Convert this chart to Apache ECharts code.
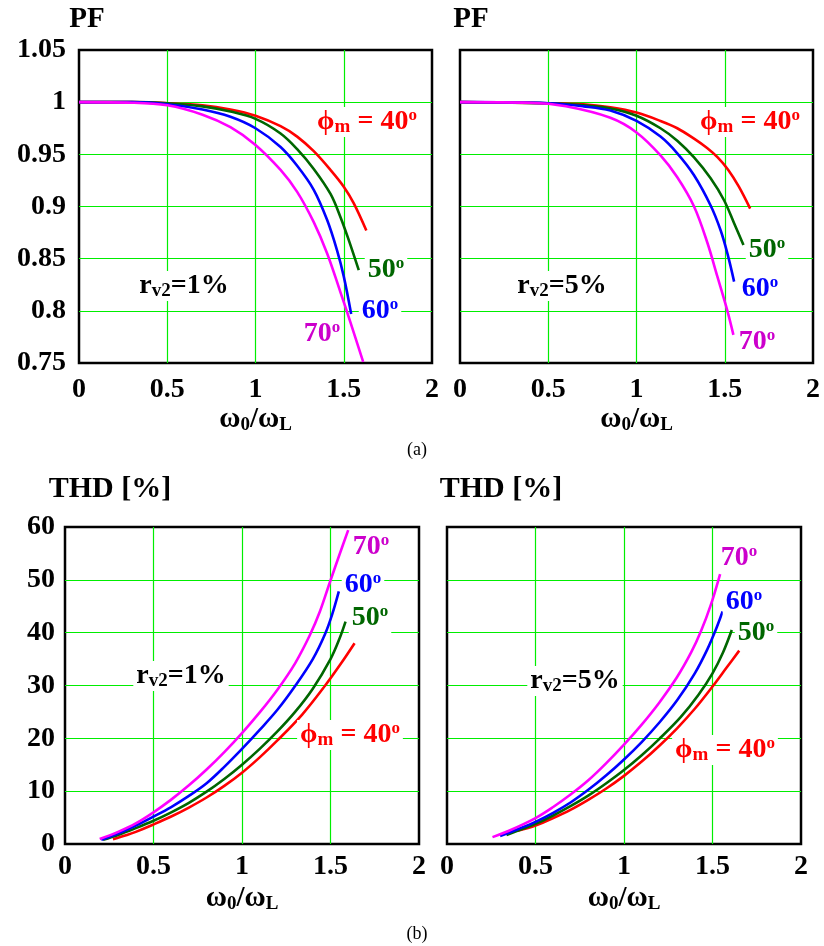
<!DOCTYPE html>
<html><head><meta charset="utf-8">
<script src="https://cdn.jsdelivr.net/npm/echarts@6/dist/echarts.min.js"></script>
<style>html,body{margin:0;padding:0;background:#fff}#c{width:824px;height:946px}</style>
</head><body><div id="c"></div>
<script>
// ---- data (x = ω0/ωL) ----
// PF, r_v2 = 1%
const pf1_40 = [[0,1],[0.3,1],[0.5,0.999],[0.7,0.997],[0.858,0.993],[1.0,0.987],[1.142,0.977],[1.236,0.967],[1.33,0.953],[1.425,0.935],[1.5,0.919],[1.557,0.903],[1.628,0.877]];
const pf1_50 = [[0,1],[0.3,1],[0.5,0.999],[0.7,0.996],[0.858,0.991],[1.0,0.984],[1.142,0.970],[1.236,0.955],[1.33,0.936],[1.425,0.912],[1.481,0.890],[1.528,0.868],[1.585,0.839]];
const pf1_60 = [[0,1],[0.3,1],[0.5,0.998],[0.7,0.993],[0.858,0.986],[1.0,0.975],[1.142,0.957],[1.236,0.939],[1.33,0.916],[1.406,0.887],[1.462,0.858],[1.5,0.833],[1.542,0.797]];
const pf1_70 = [[0,1],[0.3,0.9995],[0.5,0.997],[0.7,0.988],[0.858,0.976],[1.0,0.959],[1.142,0.935],[1.236,0.914],[1.33,0.885],[1.406,0.855],[1.481,0.818],[1.538,0.789],[1.61,0.751]];
// PF, r_v2 = 5%
const pf5_40 = [[0,1],[0.5,0.999],[0.7,0.998],[0.852,0.995],[1.0,0.990],[1.136,0.982],[1.231,0.975],[1.326,0.965],[1.4,0.956],[1.46,0.947],[1.52,0.935],[1.58,0.919],[1.644,0.898]];
const pf5_50 = [[0,1],[0.5,0.999],[0.7,0.997],[0.852,0.994],[1.0,0.987],[1.136,0.975],[1.231,0.963],[1.326,0.947],[1.42,0.927],[1.496,0.906],[1.553,0.884],[1.606,0.863]];
const pf5_60 = [[0,1],[0.5,0.999],[0.7,0.996],[0.852,0.992],[1.0,0.982],[1.136,0.967],[1.231,0.951],[1.326,0.930],[1.42,0.901],[1.477,0.877],[1.515,0.855],[1.553,0.828]];
const pf5_70 = [[0,1],[0.4,0.9995],[0.6,0.996],[0.852,0.985],[1.0,0.971],[1.136,0.949],[1.231,0.928],[1.326,0.900],[1.402,0.865],[1.458,0.833],[1.515,0.800],[1.549,0.777]];
// THD [%], r_v2 = 1%
const thd1_40 = [[0.271,0.9],[0.35,1.7],[0.4,2.3],[0.5,3.7],[0.6,5.2],[0.7,6.9],[0.8,8.8],[0.9,11.0],[1.0,13.5],[1.1,16.4],[1.2,19.6],[1.34,24.5],[1.47,30],[1.56,34.2],[1.636,38.0]];
const thd1_50 = [[0.215,0.8],[0.3,1.7],[0.4,3.0],[0.5,4.4],[0.6,6.0],[0.7,7.8],[0.8,9.9],[0.9,12.3],[1.0,15.0],[1.1,18.0],[1.2,21.3],[1.3,25.0],[1.4,29.4],[1.5,35.0],[1.55,38.8],[1.585,42.1]];
const thd1_60 = [[0.205,0.8],[0.3,2.0],[0.4,3.5],[0.5,5.2],[0.6,7.0],[0.7,9.1],[0.8,11.5],[0.9,14.6],[1.0,18.0],[1.1,21.6],[1.2,25.4],[1.3,29.9],[1.4,35.0],[1.47,39.8],[1.51,43.5],[1.547,47.8]];
const thd1_70 = [[0.196,0.95],[0.3,2.3],[0.4,3.9],[0.5,6.0],[0.6,8.4],[0.7,11.1],[0.8,14.1],[0.9,17.4],[1.0,21.0],[1.1,24.9],[1.2,29.2],[1.3,34.2],[1.383,39.5],[1.44,44.0],[1.496,49.5],[1.55,54.7],[1.6,59.4]];
// THD [%], r_v2 = 5%
const thd5_40 = [[0.4,2.5],[0.5,3.5],[0.6,4.9],[0.7,6.5],[0.8,8.4],[0.9,10.5],[1.0,12.9],[1.1,15.6],[1.2,18.6],[1.3,21.9],[1.4,25.6],[1.5,29.8],[1.58,33.4],[1.651,36.6]];
const thd5_50 = [[0.336,1.7],[0.42,2.8],[0.5,3.8],[0.6,5.4],[0.7,7.2],[0.8,9.2],[0.9,11.5],[1.0,14.0],[1.1,16.8],[1.2,19.9],[1.32,24.0],[1.42,28.2],[1.5,32.3],[1.56,36.3],[1.609,40.5]];
const thd5_60 = [[0.3,1.5],[0.4,2.8],[0.5,4.2],[0.6,5.9],[0.7,7.9],[0.8,10.3],[0.9,13.0],[1.0,16.0],[1.1,19.3],[1.2,23.0],[1.3,27.2],[1.4,32.3],[1.47,36.8],[1.519,40.6],[1.557,44.0]];
const thd5_70 = [[0.257,1.3],[0.35,2.5],[0.5,4.9],[0.6,7.0],[0.7,9.4],[0.8,12.1],[0.9,15.3],[1.0,18.8],[1.1,22.6],[1.2,26.8],[1.3,31.6],[1.38,36.3],[1.434,40.2],[1.49,45.2],[1.543,51.1]];

const phiLabels = ['40', '50', '60', '70'];
const lineColors = ['#ff0000', '#006600', '#0000ff', '#ff00ff'];

const chart = echarts.init(document.getElementById('c'));
const SERIF = '"Liberation Serif","Times New Roman",serif';

const grids = [
  {left: 79, top: 50, width: 353, height: 313},
  {left: 460, top: 50, width: 353, height: 313},
  {left: 65, top: 527, width: 354, height: 317},
  {left: 447, top: 527, width: 354, height: 317}
];
const panels = [
  [pf1_40, pf1_50, pf1_60, pf1_70],
  [pf5_40, pf5_50, pf5_60, pf5_70],
  [thd1_40, thd1_50, thd1_60, thd1_70],
  [thd5_40, thd5_50, thd5_60, thd5_70]
];

const fmt = v => String(+(+v).toFixed(2));
const xName = '{w|ω}{s|0}{w|/ω}{s|L}';
const xNameRich = {
  w: {fontFamily: SERIF, fontWeight: 'bold', fontSize: 29, color: '#000', lineHeight: 30},
  s: {fontFamily: SERIF, fontWeight: 'bold', fontSize: 19, color: '#000', verticalAlign: 'bottom', lineHeight: 18}
};
const tickFont = {fontFamily: SERIF, fontWeight: 'bold', fontSize: 28, color: '#000'};
const gridLine = {show: true, showMinLine: false, showMaxLine: false, lineStyle: {color: '#00ee00', width: 1.2}};

const xAxes = grids.map((g, i) => ({
  gridIndex: i, type: 'value', min: 0, max: 2, interval: 0.5,
  axisLine: {show: false}, axisTick: {show: false},
  axisLabel: Object.assign({formatter: fmt, margin: i < 2 ? 13 : 9}, tickFont),
  splitLine: gridLine,
  name: xName, nameLocation: 'middle', nameGap: 40,
  nameTextStyle: {rich: xNameRich}
}));
const yAxes = grids.map((g, i) => (i < 2 ? {
  gridIndex: i, type: 'value', min: 0.75, max: 1.05, interval: 0.05,
  axisLine: {show: false}, axisTick: {show: false},
  axisLabel: Object.assign({show: i === 0, formatter: fmt, margin: 13}, tickFont),
  splitLine: gridLine
} : {
  gridIndex: i, type: 'value', min: 0, max: 60, interval: 10,
  axisLine: {show: false}, axisTick: {show: false},
  axisLabel: Object.assign({show: i === 2, formatter: fmt, margin: 10}, tickFont),
  splitLine: gridLine
}));

const series = [];
panels.forEach((set, i) => {
  set.forEach((d, k) => {
    series.push({
      type: 'line', xAxisIndex: i, yAxisIndex: i, data: d,
      name: phiLabels[k], showSymbol: false, smooth: 0.35,
      lineStyle: {color: lineColors[k], width: 2.6}, z: 3, silent: true
    });
  });
});

const big = {fontFamily: SERIF, fontWeight: 'bold', fontSize: 28, lineHeight: 30};
function richFor(color) {
  return {
    a: Object.assign({}, big, {fill: color, color: color}),
    s: {fontFamily: SERIF, fontWeight: 'bold', fontSize: 19, lineHeight: 19, verticalAlign: 'bottom', fill: color, color: color},
    o: {fontFamily: SERIF, fontWeight: 'bold', fontSize: 17, lineHeight: 30, verticalAlign: 'top', fill: color, color: color}
  };
}
function label(x, y, text, color) {
  return {type: 'text', x: x, y: y, z: 100, silent: true,
    style: {text: text, rich: richFor(color), align: 'center', verticalAlign: 'middle',
      backgroundColor: '#fff', padding: [0, 3, 0, 3], fill: color}};
}
const phiText = '{a|ϕ}{s|m}{a| = 40}{o|o}';
const deg = v => '{a|' + v + '}{o|o}';
const rText = p => '{a|r}{s|v2}{a|=' + p + '%}';
function title(x, y, t, size, w) {
  return {type: 'text', x: x, y: y, silent: true,
    style: {text: t, font: w + ' ' + size + 'px ' + SERIF, fill: '#000', align: 'center', verticalAlign: 'middle'}};
}

const graphics = [
  title(87, 20, 'PF', 29, 'bold'),
  title(471, 20, 'PF', 29, 'bold'),
  title(110, 489, 'THD [%]', 30, 'bold'),
  title(501, 489, 'THD [%]', 30, 'bold'),
  title(417, 450, '(a)', 18, 'normal'),
  title(417, 934, '(b)', 18, 'normal'),
  // panel 1
  label(367, 122, phiText, '#ff0000'),
  label(386, 270, deg('50'), '#006600'),
  label(380, 311, deg('60'), '#0000ff'),
  label(322, 334, deg('70'), '#cc00cc'),
  label(184, 286, rText('1'), '#000'),
  // panel 2
  label(750, 122, phiText, '#ff0000'),
  label(767, 250, deg('50'), '#006600'),
  label(760, 289, deg('60'), '#0000ff'),
  label(757, 342, deg('70'), '#cc00cc'),
  label(562, 286, rText('5'), '#000'),
  // panel 3
  label(371, 547, deg('70'), '#cc00cc'),
  label(363, 585, deg('60'), '#0000ff'),
  label(370, 618, deg('50'), '#006600'),
  label(350, 735, phiText, '#ff0000'),
  label(181, 676, rText('1'), '#000'),
  // panel 4
  label(739, 558, deg('70'), '#cc00cc'),
  label(744, 602, deg('60'), '#0000ff'),
  label(756, 633, deg('50'), '#006600'),
  label(725, 750, phiText, '#ff0000'),
  label(575, 681, rText('5'), '#000')
];

chart.setOption({
  backgroundColor: '#fff',
  animation: false,
  grid: grids.map(g => Object.assign({show: true, borderColor: '#000', borderWidth: 2.5, backgroundColor: '#fff'}, g)),
  xAxis: xAxes,
  yAxis: yAxes,
  series: series,
  graphic: graphics
});
</script></body></html>
